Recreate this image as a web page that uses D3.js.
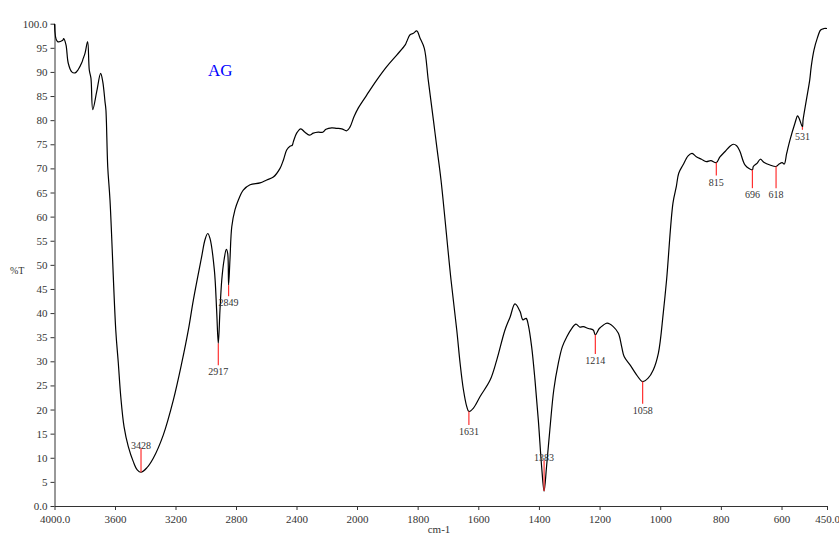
<!DOCTYPE html>
<html>
<head>
<meta charset="utf-8">
<script src="https://cdn.jsdelivr.net/npm/d3@7"></script>
<style>
  body { margin: 0; background: #fff; }
  svg text { font-family: "Liberation Serif", "DejaVu Serif", serif; }
</style>
</head>
<body>
<div id="chart"></div>
<script>
// spectrum (cm-1, %T)
const wavenumber = [4000, 3981, 3948, 3939, 3924, 3909, 3886, 3864, 3843, 3820, 3810, 3798, 3781, 3770, 3759, 3747,
  3721, 3695, 3681, 3666, 3660, 3648, 3633, 3595, 3578, 3562, 3540, 3512, 3479, 3453, 3428, 3390, 3347, 3281,
  3214, 3159, 3115, 3082, 3027, 3005, 2987, 2972, 2943, 2928, 2917, 2906, 2894, 2879, 2864, 2855, 2849, 2840,
  2828, 2807, 2785, 2752, 2707, 2641, 2597, 2553, 2509, 2487, 2465, 2443, 2428, 2421, 2399, 2372, 2344, 2315,
  2289, 2256, 2227, 2205, 2167, 2134, 2101, 2068, 2046, 2020, 1996, 1968, 1935, 1902, 1869, 1841, 1836, 1825,
  1814, 1803, 1792, 1778, 1765, 1748, 1737, 1723, 1690, 1671, 1660, 1649, 1638, 1631, 1616, 1594, 1561, 1539,
  1512, 1495, 1479, 1462, 1453, 1442, 1435, 1424, 1413, 1402, 1391, 1383, 1375, 1364, 1351, 1336, 1323, 1308,
  1292, 1278, 1265, 1254, 1237, 1221, 1214, 1201, 1188, 1175, 1155, 1138, 1127, 1119, 1099, 1078, 1058, 1040,
  1023, 1006, 990, 979, 958, 947, 939, 925, 908, 895, 881, 864, 848, 833, 815, 803, 786, 770, 759, 748, 737,
  720, 696, 693, 680, 670, 657, 638, 618, 608, 598, 591, 583, 572, 556, 547, 542, 531, 529, 518, 507, 502,
  493, 482, 471, 460, 450];
const transmittance = [100, 96.3, 96.5, 96.9, 95.6, 91.8, 90.0, 89.8, 90.5, 91.9, 92.8, 93.9, 96.3, 90.4, 88.7, 82.2,
  85.9, 89.7, 88.0, 83.8, 82.1, 70.3, 63.4, 36.5, 29.6, 22.7, 16.4, 12.3, 9.2, 7.5, 7.0, 7.9, 9.9, 14.7,
  22.0, 29.6, 36.5, 42.7, 51.7, 55.2, 56.5, 55.5, 48.9, 40.6, 33.7, 40.6, 46.9, 51.0, 53.2, 52.4, 45.8, 51.0,
  57.9, 61.4, 63.4, 65.5, 66.6, 67.0, 67.6, 68.2, 70.0, 71.7, 73.8, 74.6, 74.8, 75.5, 77.3, 78.2, 77.5, 76.9,
  77.3, 77.5, 77.5, 78.1, 78.4, 78.3, 78.2, 77.8, 78.6, 80.7, 82.5, 85.2, 88.3, 91.1, 93.5, 95.6, 96.3, 97.7,
  98.0, 98.5, 97.0, 94.9, 88.3, 80.0, 74.5, 67.6, 46.9, 36.5, 29.6, 24.1, 20.6, 19.6, 20.3, 22.7, 26.1, 30.3,
  36.5, 39.2, 41.9, 40.3, 38.6, 38.9, 37.5, 33.0, 26.1, 17.8, 8.1, 3.1, 8.1, 15.8, 24.1, 29.6, 33.0, 35.1,
  36.8, 37.7, 37.1, 37.2, 36.8, 36.5, 35.5, 36.8, 37.5, 37.9, 37.2, 35.8, 33.0, 31.0, 29.2, 27.2, 25.8, 26.5,
  28.2, 31.7, 40.0, 46.9, 62.8, 66.2, 69.0, 70.7, 72.6, 73.1, 72.4, 71.9, 71.4, 71.6, 71.2, 72.4, 73.5, 74.6,
  75.0, 74.7, 73.5, 70.7, 69.7, 70.4, 71.1, 71.9, 71.2, 70.7, 70.4, 70.9, 71.2, 70.9, 73.1, 75.9, 79.3, 80.9,
  80.4, 78.6, 80.0, 84.2, 88.3, 91.1, 94.5, 97.0, 98.7, 99.0, 99.0];

// marked peaks: position, %T on the curve, %T where the red marker ends
const peakWn = [3428, 2917, 2849, 1631, 1383, 1214, 1058, 815, 696, 618, 531];
const peakT = [7.0, 33.7, 45.8, 19.6, 3.1, 35.5, 25.8, 71.2, 69.7, 70.4, 78.6];
const peakEnd = [12.0, 29.2, 43.5, 16.8, 9.5, 31.5, 21.2, 68.5, 65.9, 65.9, 78.0];

const xTicks = [4000, 3600, 3200, 2800, 2400, 2000, 1800, 1600, 1400, 1200, 1000, 800, 600, 450];
const yTicks = d3.range(0, 101, 5);

const width = 839, height = 535;

// the instrument doubles the scale below 2000 cm-1
const x = d3.scaleLinear().domain([4000, 2000, 450]).range([54.5, 357, 827]);
const y = d3.scaleLinear().domain([0, 100]).range([506, 23.7]);

const svg = d3.select('#chart').append('svg')
  .attr('width', width)
  .attr('height', height);

const xAxis = svg.append('g')
  .attr('transform', 'translate(0,506)')
  .call(d3.axisBottom(x).tickValues(xTicks).tickSize(4).tickSizeOuter(0)
    .tickFormat(d => (d === 4000 || d === 450) ? d.toFixed(1) : d));

const yAxis = svg.append('g')
  .attr('transform', 'translate(54.5,0)')
  .call(d3.axisLeft(y).tickValues(yTicks).tickSize(4).tickSizeOuter(0)
    .tickFormat(d => (d === 0 || d === 100) ? d.toFixed(1) : d));

[xAxis, yAxis].forEach(g => {
  g.selectAll('path, line').attr('stroke', '#333');
  g.selectAll('text').attr('fill', '#333').style('font-size', '11px')
    .style('font-family', '"Liberation Serif", serif');
});
xAxis.selectAll('text').attr('dy', '0.95em');

svg.append('text')
  .attr('x', 10).attr('y', 274)
  .attr('fill', '#333').style('font-size', '10px')
  .text('%T');

svg.append('text')
  .attr('x', 439).attr('y', 533)
  .attr('text-anchor', 'middle')
  .attr('fill', '#333').style('font-size', '11px')
  .text('cm-1');

svg.append('text')
  .attr('x', 208).attr('y', 76)
  .attr('fill', '#0000ff').style('font-size', '17px')
  .text('AG');

const points = wavenumber.map((w, i) => [w, transmittance[i]]);

svg.append('path')
  .datum(points)
  .attr('fill', 'none')
  .attr('stroke', '#000')
  .attr('stroke-width', 1.2)
  .attr('d', d3.line()
    .x(d => x(d[0]))
    .y(d => y(d[1]))
    .curve(d3.curveCatmullRom.alpha(0.5)));

const peaks = peakWn.map((w, i) => ({ w, t: peakT[i], end: peakEnd[i] }));

svg.selectAll('.peak')
  .data(peaks)
  .join('line')
  .attr('class', 'peak')
  .attr('x1', d => x(d.w)).attr('x2', d => x(d.w))
  .attr('y1', d => y(d.t)).attr('y2', d => y(d.end))
  .attr('stroke', '#ff3030')
  .attr('stroke-width', 1.2);

svg.selectAll('.peak-label')
  .data(peaks)
  .join('text')
  .attr('class', 'peak-label')
  .attr('x', d => x(d.w))
  .attr('y', d => d.end > d.t ? y(d.end) + 1 : y(d.end) + 10)
  .attr('text-anchor', 'middle')
  .attr('fill', '#333')
  .style('font-size', '10px')
  .text(d => d.w);
</script>
</body>
</html>
